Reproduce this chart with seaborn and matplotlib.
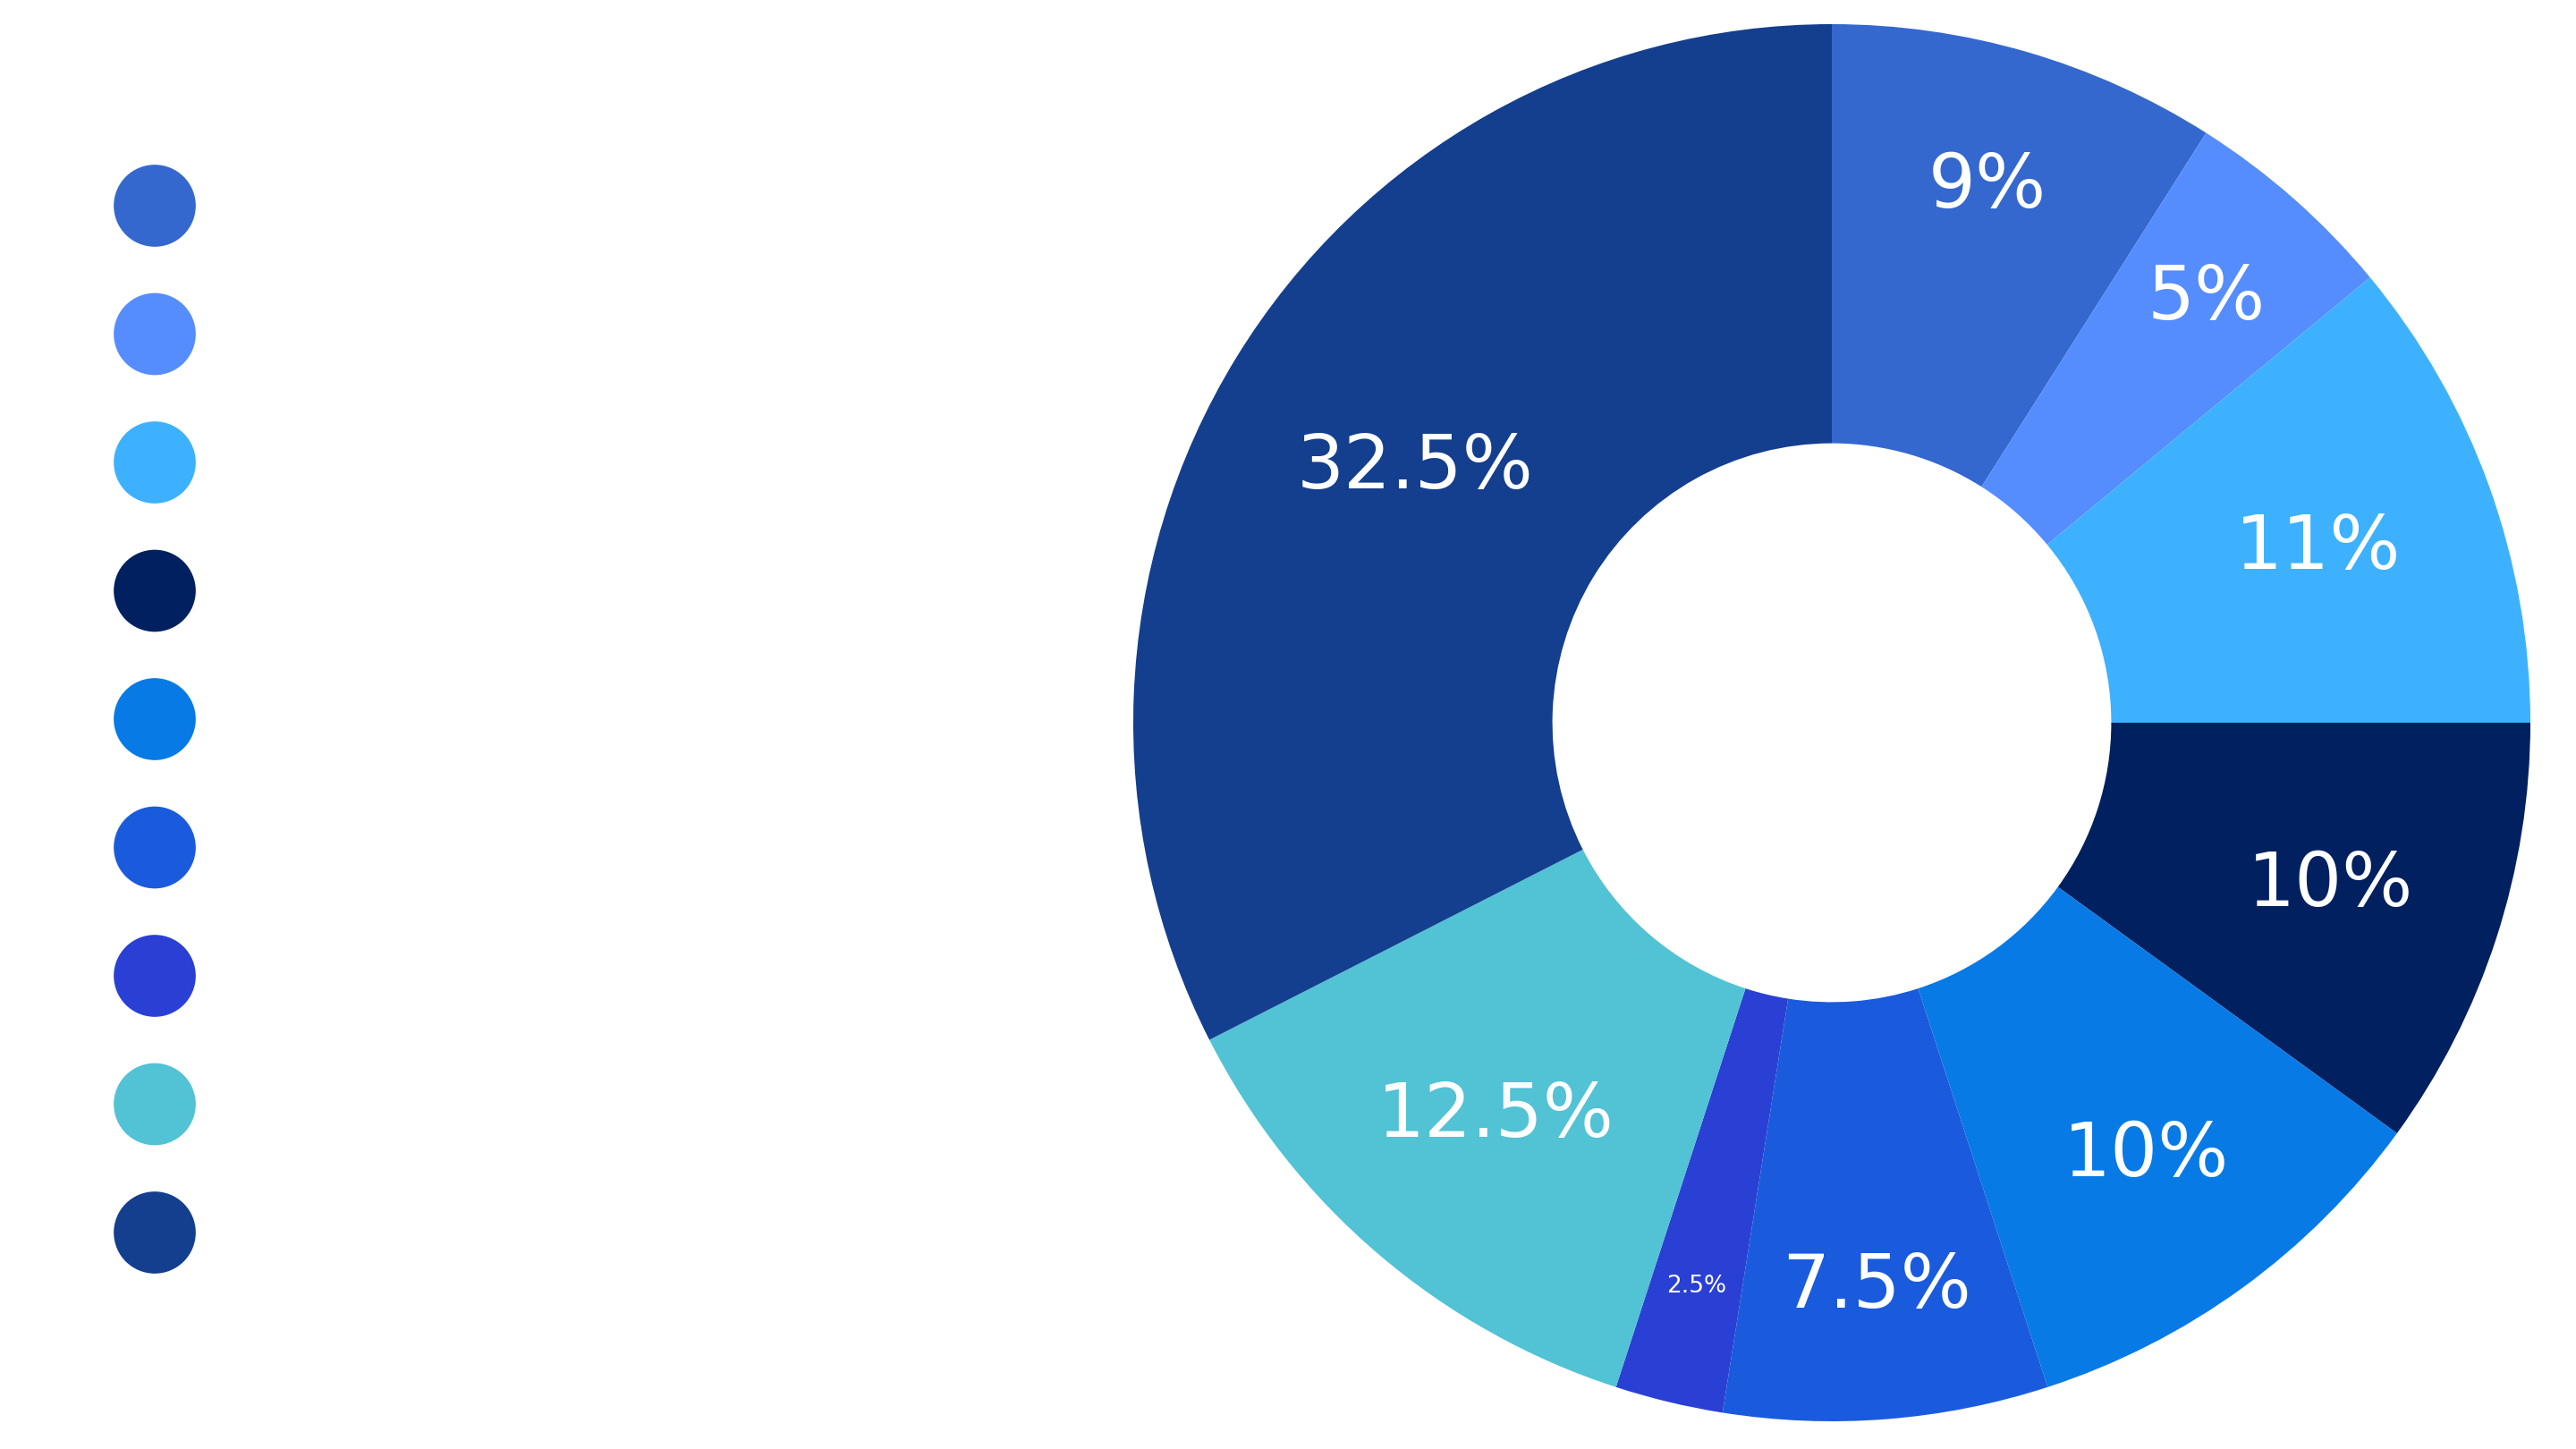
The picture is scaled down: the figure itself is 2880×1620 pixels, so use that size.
import matplotlib
matplotlib.use("Agg")
import matplotlib.pyplot as plt
import seaborn as sns
import pandas as pd
import numpy as np

# ---- data ----
categories = ["A", "B", "C", "D", "E", "F", "G", "H", "I"]
values = [9, 5, 11, 10, 10, 7.5, 2.5, 12.5, 32.5]
colors = ["#3468CF", "#558DFE", "#3EB1FE", "#012060", "#077AE5",
          "#1A5BDE", "#2A40D4", "#52C2D5", "#143E8E"]

# label placement (fraction of outer radius) per slice - styling
label_dist = [0.80, 0.81, 0.74, 0.75, 0.765, 0.81, 0.83, 0.74, 0.70]

sns.set_theme(style="white")
plt.rcParams["font.family"] = ["DejaVu Sans"]

W, H = 2880, 1620
fig = plt.figure(figsize=(W / 100, H / 100), dpi=100)
fig.patch.set_facecolor("white")

# ---- donut ----
cx, cy, R = 2048, 808, 781
ax = fig.add_axes([(cx - R) / W, (H - cy - R) / H, 2 * R / W, 2 * R / H])
wedges, texts, autotexts = ax.pie(
    values,
    colors=colors,
    startangle=90,
    counterclock=False,
    wedgeprops=dict(width=0.6, linewidth=0),
    autopct=lambda p: f"{p:.1f}".rstrip("0").rstrip(".") + "%",
    pctdistance=0.77,
    textprops=dict(color="white", fontsize=60, fontweight="medium"),
)
for w, t, v, d in zip(wedges, autotexts, values, label_dist):
    ang = np.deg2rad((w.theta1 + w.theta2) / 2)
    t.set_position((d * np.cos(ang), d * np.sin(ang)))
    if v < 4:
        t.set_fontsize(19)
ax.set_xlim(-1, 1)
ax.set_ylim(-1, 1)
ax.set_aspect("equal")
ax.axis("off")

# ---- legend dots ----
n = len(categories)
step = 143.5
top = 230 - step / 2
lax = fig.add_axes([0, (H - (top + n * step)) / H, 346 / W, n * step / H])
df = pd.DataFrame({"x": [0] * n, "cat": categories})
sns.scatterplot(data=df, x="x", y="cat", hue="cat", palette=colors,
                s=66 ** 2, linewidth=0, legend=False, ax=lax)
lax.set_xlim(-1, 1)
lax.set_ylim(n - 0.5, -0.5)
lax.axis("off")

fig.savefig("out.png", dpi=100, facecolor="white")
